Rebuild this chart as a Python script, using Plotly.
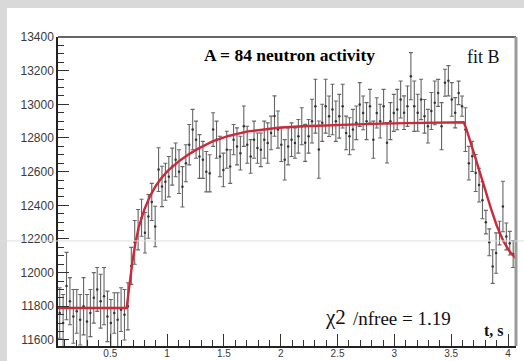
import numpy as np
import plotly.graph_objects as go

# Binned neutron counts (bin width 0.03 s, first bin starts at 0.04 s)
bin_start = 0.04
bin_width = 0.03
counts = [
    11760, 11700, 11920, 11830, 11740, 11770, 11720, 11800, 11710, 11760, 11850,
    11900, 11830, 11860, 11740, 11700, 11760, 11720, 11780, 11750, 11800,
    12040, 12180, 12255, 12326, 12237, 12334, 12420, 12274, 12612, 12512, 12540,
    12570, 12630, 12670, 12600, 12510, 12650, 12760,
    12850, 12790, 12690, 12670, 12600, 12590, 12850, 12790, 12690, 12610, 12730,
    12630, 12790, 12750, 12710, 12870, 12760, 12690, 12790, 12740, 12730, 12790,
    12770, 12830, 12930, 12850, 12760, 12670, 12750, 12790, 12770, 12810, 12870,
    12771, 12810, 12900, 12989, 12731, 12890, 12989, 12929, 12969, 12900, 12929,
    12989, 12830, 12810, 12850, 12890, 12999, 12949, 12900, 12989, 12790, 12949,
    12900, 12989, 12771, 12900, 12949, 12969, 13029, 12950, 12989, 13167, 12989,
    12950, 13029, 12929,
    12870, 12960, 13009, 13068, 12870, 13128, 13140, 13029, 12950, 13068, 12989,
    12850, 12650, 12691, 12592, 12520, 12430, 12300, 12180, 12036, 12116, 12235,
    12393, 12215, 12175, 12110,
]
errors = [
    150, 170, 200, 140, 160, 130, 150, 170, 160, 140, 150, 130, 160, 170, 150,
    140, 120, 160, 130, 150, 140,
    110, 130, 120, 110, 120, 130, 110, 120, 130, 120, 110, 120, 110, 100, 130,
    120, 110, 120,
    120, 110, 130, 110, 120, 110, 100, 110, 120, 100, 110, 100, 90, 110, 100,
    120, 110, 100, 110, 90, 100, 110, 120, 100, 120, 110, 100, 120, 110, 100,
    90, 100, 110,
    110, 100, 130, 160, 170, 110, 160, 120, 150, 120, 130, 130, 100, 110, 120,
    100, 130, 100, 110, 100, 110, 90, 100, 100, 120, 110, 110, 120, 110, 100,
    120, 140, 150, 110, 120, 100,
    100, 110, 130, 80, 140, 80, 90, 100, 90, 70, 60, 130, 100, 90, 110, 100,
    110, 70, 80, 100, 120, 70, 150, 80, 70, 80,
]
t_centers = bin_start + bin_width * (np.arange(len(counts)) + 0.5)

# Fitted activity curve (fit B)
fit_t = [0.04, 0.645, 0.66, 0.68, 0.70, 0.72, 0.75, 0.80, 0.85, 0.90, 0.95,
         1.01, 1.11, 1.20, 1.27, 1.40, 1.54, 1.70, 1.83, 2.00, 2.20, 2.50,
         2.80, 3.10, 3.40, 3.61, 3.63, 3.66, 3.70, 3.75, 3.79, 3.85, 3.90,
         3.96, 4.02, 4.07]
fit_y = [11790, 11790, 11880, 11990, 12090, 12170, 12270, 12375, 12455,
         12515, 12562, 12607, 12665, 12707, 12735, 12780, 12812, 12838,
         12850, 12862, 12870, 12878, 12884, 12888, 12891, 12893, 12860,
         12790, 12710, 12600, 12510, 12380, 12280, 12185, 12120, 12085]

x_ticks = [0.5, 1, 1.5, 2, 2.5, 3, 3.5, 4]
x_labels = ["0.5", "1", "1.5", "2", "2.5", "3", "3.5", "4"]
y_ticks = [11600, 11800, 12000, 12200, 12400, 12600, 12800, 13000, 13200, 13400]
y_labels = [str(v) for v in y_ticks]

fig = go.Figure()
fig.add_trace(go.Scatter(
    x=t_centers, y=counts, mode="markers",
    marker=dict(size=2.5, color="#333333"),
    error_y=dict(type="data", array=errors, color="#666666", thickness=1.1, width=2),
    showlegend=False,
))
fig.add_trace(go.Scatter(
    x=fit_t, y=fit_y, mode="lines",
    line=dict(color="#cc2a3a", width=2.4),
    showlegend=False,
))

tick_font = dict(family="Liberation Sans, Arial, sans-serif", size=12, color="#3a3a3a")
xtick_font = dict(family="Liberation Sans, Arial, sans-serif", size=10, color="#3a3a3a")
serif = "Liberation Serif"

fig.update_layout(
    width=524, height=361,
    margin=dict(l=58, r=8, t=37, b=15),
    paper_bgcolor="#d9d9d9",
    plot_bgcolor="white",
    xaxis=dict(
        range=[0.04, 4.07], showgrid=False, zeroline=False, automargin=False,
        showline=True, linecolor="#222222", linewidth=1.5,
        ticks="inside", ticklen=12, tickwidth=1, tickcolor="#333333",
        tickvals=x_ticks, ticktext=x_labels, tickfont=xtick_font,
        ticklabelstandoff=-3,
        minor=dict(dtick=0.1, tick0=0, ticks="inside", ticklen=6,
                   tickcolor="#333333", showgrid=False),
    ),
    yaxis=dict(
        range=[11564, 13400], showgrid=False, zeroline=False, automargin=False,
        showline=True, linecolor="#222222", linewidth=1.5,
        ticks="inside", ticklen=11, tickwidth=1, tickcolor="#333333",
        tickvals=y_ticks, ticktext=y_labels, tickfont=tick_font,
        minor=dict(dtick=50, tick0=0, ticks="inside", ticklen=6,
                   tickcolor="#333333", showgrid=False),
    ),
    shapes=[
        # white canvas panel
        dict(type="rect", xref="paper", yref="paper", x0=-0.1114, x1=1.2,
             y0=-0.2, y1=1.0939, fillcolor="white", line=dict(width=0),
             layer="below"),
        # frame top and right
        dict(type="line", xref="paper", yref="paper", x0=0, x1=1, y0=1, y1=1,
             line=dict(color="#666666", width=2)),
        dict(type="line", xref="paper", yref="paper", x0=1, x1=1, y0=0, y1=1,
             line=dict(color="#9a9a9a", width=3)),
        # faint horizontal seam across the page
        dict(type="line", xref="paper", yref="paper", x0=-0.2, x1=1.2,
             y0=0.34, y1=0.34, line=dict(color="#dedede", width=1)),
    ],
    annotations=[
        dict(text="<b>A = 84 neutron activity</b>", xref="paper", yref="paper",
             x=0.5044, y=0.942, xanchor="center", yanchor="middle",
             showarrow=False, font=dict(family=serif, size=17.5, color="black")),
        dict(text="fit B", xref="paper", yref="paper",
             x=0.928, y=0.936, xanchor="center", yanchor="middle",
             showarrow=False, font=dict(family=serif, size=18, color="#111111")),
        dict(text="χ2", xref="paper", yref="paper", x=0.5786, y=0.094,
             xanchor="left", yanchor="middle", showarrow=False,
             font=dict(family=serif, size=21, color="#111111")),
        dict(text="/nfree = 1.19", xref="paper", yref="paper", x=0.639, y=0.088,
             xanchor="left", yanchor="middle", showarrow=False,
             font=dict(family=serif, size=19, color="#111111")),
        dict(text="<b>t, s</b>", xref="paper", yref="paper",
             x=0.952, y=0.05, xanchor="center", yanchor="middle",
             showarrow=False, font=dict(family=serif, size=16, color="#111111")),
    ],
)

fig.write_html("out.html")
